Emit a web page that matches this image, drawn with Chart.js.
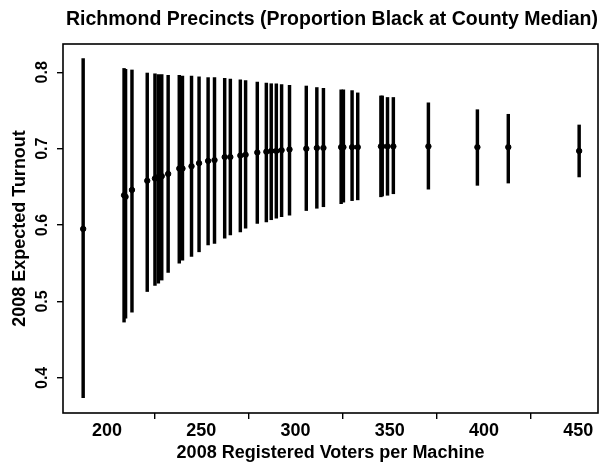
<!DOCTYPE html>
<html>
<head>
<meta charset="utf-8">
<script src="https://cdn.jsdelivr.net/npm/chart.js@4/dist/chart.umd.min.js"></script>
<style>
  html, body { margin: 0; padding: 0; background: #fff; }
  #wrap { width: 610px; height: 474px; }
</style>
</head>
<body>
<div id="wrap"><canvas id="turnoutChart" width="610" height="474"></canvas></div>
<script>
// precinct values
const votersPerMachine = [187.3, 209.0, 209.8, 213.2, 221.3, 225.4, 227.2, 229.0, 232.4, 238.3,
  240.0, 244.8, 248.8, 253.6, 257.0, 262.4, 265.4, 270.7, 273.5, 279.7,
  284.5, 287.1, 289.8, 292.6, 296.8, 305.7, 311.3, 314.8, 324.2, 325.4,
  330.0, 333.0, 345.3, 346.0, 348.8, 351.9, 370.5, 396.5, 412.9, 450.5];
const turnoutMid = [0.595, 0.639, 0.637, 0.646, 0.658, 0.661, 0.663, 0.664, 0.667, 0.674,
  0.674, 0.677, 0.681, 0.684, 0.685, 0.689, 0.689, 0.691, 0.692, 0.695,
  0.696, 0.697, 0.697, 0.698, 0.699, 0.700, 0.701, 0.701, 0.702, 0.702,
  0.702, 0.702, 0.703, 0.703, 0.703, 0.703, 0.703, 0.702, 0.702, 0.697];
const turnoutLow = [0.374, 0.473, 0.478, 0.486, 0.513, 0.521, 0.524, 0.528, 0.538, 0.550,
  0.554, 0.559, 0.565, 0.574, 0.576, 0.583, 0.587, 0.591, 0.596, 0.602,
  0.604, 0.607, 0.609, 0.611, 0.613, 0.619, 0.622, 0.624, 0.628, 0.630,
  0.632, 0.633, 0.637, 0.638, 0.639, 0.641, 0.647, 0.652, 0.655, 0.663];
const turnoutHigh = [0.818, 0.805, 0.804, 0.803, 0.799, 0.798, 0.797, 0.797, 0.796, 0.796,
  0.795, 0.795, 0.794, 0.793, 0.793, 0.792, 0.791, 0.790, 0.789, 0.787,
  0.786, 0.785, 0.785, 0.784, 0.783, 0.782, 0.780, 0.779, 0.777, 0.777,
  0.776, 0.773, 0.769, 0.769, 0.767, 0.767, 0.760, 0.751, 0.745, 0.731];
const xTicks = [200, 250, 300, 350, 400, 450];
const yTicks = [0.4, 0.5, 0.6, 0.7, 0.8];

const intervals = votersPerMachine.map((x, i) => ({ x: x, y: [turnoutLow[i], turnoutHigh[i]] }));
const centers = votersPerMachine.map((x, i) => ({ x: x, y: turnoutMid[i] }));

// R style box round the plot region
const boxPlugin = {
  id: "box",
  afterDraw(chart) {
    const a = chart.chartArea;
    const c = chart.ctx;
    c.save();
    c.strokeStyle = "#000";
    c.lineWidth = 1.6;
    c.strokeRect(a.left, a.top, a.right - a.left, a.bottom - a.top);
    c.restore();
  }
};

const font = "'Liberation Sans', Arial, Helvetica, sans-serif";

new Chart(document.getElementById("turnoutChart"), {
  type: "bar",
  data: {
    datasets: [
      {
        type: "scatter",
        data: centers,
        backgroundColor: "#000",
        borderColor: "#000",
        pointRadius: 2.7,
        pointHoverRadius: 2.7,
        order: 0
      },
      {
        type: "bar",
        data: intervals,
        backgroundColor: "#000",
        borderWidth: 0,
        barThickness: 2.8,
        order: 1
      }
    ]
  },
  options: {
    responsive: false,
    animation: false,
    layout: { padding: { left: 0, right: 12, top: 0, bottom: 0 } },
    plugins: {
      legend: { display: false },
      tooltip: { enabled: false },
      title: {
        display: true,
        align: "end",
        text: "Richmond Precincts (Proportion Black at County Median)",
        color: "#000",
        font: { family: font, size: 19.5, weight: "bold" },
        padding: { top: 8, bottom: 12.6 }
      }
    },
    scales: {
      x: {
        type: "linear",
        offset: false,
        min: 176.6,
        max: 460.5,
        afterBuildTicks: (scale) => { scale.ticks = xTicks.map(v => ({ value: v })); },
        afterFit: (scale) => { scale.height = 61; },
        border: { display: false },
        grid: { display: true, drawOnChartArea: false, drawTicks: true, tickLength: 6, color: "#000", lineWidth: 1.4 },
        ticks: {
          color: "#000",
          font: { family: font, size: 18, weight: "bold" },
          padding: 1,
          maxRotation: 0
        },
        title: {
          display: true,
          text: "2008 Registered Voters per Machine",
          color: "#000",
          font: { family: font, size: 18, weight: "bold" },
          padding: { top: 0, bottom: 10 }
        }
      },
      y: {
        type: "linear",
        min: 0.354,
        max: 0.837,
        afterBuildTicks: (scale) => { scale.ticks = yTicks.map(v => ({ value: v })); },
        afterFit: (scale) => { scale.width = 63; },
        border: { display: false },
        grid: { display: true, drawOnChartArea: false, drawTicks: true, tickLength: 6, color: "#000", lineWidth: 1.4 },
        ticks: {
          color: "#000",
          font: { family: font, size: 16, weight: "bold" },
          padding: 3,
          minRotation: 90,
          maxRotation: 90,
          crossAlign: "center",
          callback: (v) => v.toFixed(1)
        },
        title: {
          display: true,
          text: "2008 Expected Turnout",
          color: "#000",
          font: { family: font, size: 18, weight: "bold" },
          padding: { top: 9, bottom: 0 }
        }
      }
    }
  },
  plugins: [boxPlugin]
});
</script>
</body>
</html>
